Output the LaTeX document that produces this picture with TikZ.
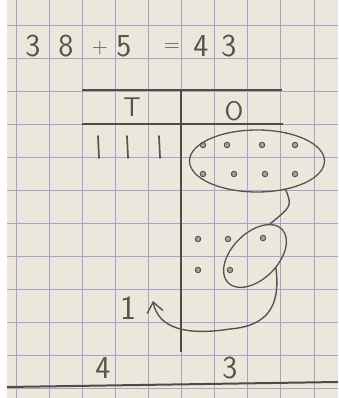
\documentclass[tikz,border=0pt]{standalone}
\usepackage{tikz}
\usetikzlibrary{positioning,calc,shapes.geometric,arrows.meta}
\definecolor{Paper}{HTML}{ECE7DD}
\definecolor{Grid}{HTML}{A7A4C8}
\definecolor{Pencil}{HTML}{55554E}

\begin{document}
\begin{tikzpicture}[
			x=1pt, y=1pt,
			gridline/.style={draw=Grid, line width=0.75pt},
			pencil/.style={draw=Pencil, line width=1.4pt, line cap=round},
			tablerule/.style={draw=Pencil!90!black, line width=2pt},
			digit/.style={text=Pencil, font=\sffamily\fontsize{32}{32}\selectfont, inner sep=0pt},
			sign/.style={text=Pencil, font=\sffamily\fontsize{22}{22}\selectfont, inner sep=0pt},
			heading/.style={text=Pencil, font=\sffamily\fontsize{27}{27}\selectfont, inner sep=0pt},
			counter/.style={circle, draw=Pencil, fill=Pencil!55, line width=0.9pt, minimum size=5.5pt, inner sep=0pt},
			ring/.style={ellipse, draw=Pencil, line width=1.3pt, inner sep=0pt}
			]
			
			% Paper and squared grid
			\useasboundingbox (0,0) rectangle (338,398);
			\fill[white] (0,0) rectangle (338,398);
			\fill[Paper] (7,0) rectangle (338,398);
			\foreach \i in {0,...,9}
			\draw[gridline] ({16+33.1*\i},0) -- ({16+33.1*\i},398);
			\foreach \j in {0,...,11}
			\draw[gridline] (7,{373-33*\j}) -- (338,{373-33*\j});
			
			% Sum
			\node[digit] (tensA) at (33,352) {3};
			\node[digit] (onesA) at (66,352) {8};
			\node[sign] (plus) at (100,350) {+};
			\node[digit] (onesB) at (124,352) {5};
			\node[sign] (equals) at (172,350) {=};
			\node[digit] (tensC) at (201,352) {4};
			\node[digit] (onesC) at (229,352) {3};
			
			% Place value table
			\draw[tablerule] (82,308) -- (282,308);
			\draw[tablerule] (82,274) -- (283,274);
			\draw[tablerule] (181,308) -- (181,46);
			\draw[tablerule] (7,11) -- (338,16);
			\node[heading] (tens) at (132,291) {T};
			\node[heading] (ones) at (234,287) {O};
			
			% Tens as tally marks
			\foreach \xx in {98,127,159}
			\draw[pencil, line width=1.7pt] (\xx,262) -- (\xx+1,240);
			
			% Ones: eight and five
			\foreach \xx/\yy [count=\k] in {203/253, 227/253, 262/253, 295/253,
				203/224, 234/224, 265/224, 295/224,
				198/159, 228/159, 263/160, 198/128, 230/128}
			\node[counter] (dot\k) at (\xx,\yy) {};
			
			% Groups making ten
			\node[ring, minimum width=135pt, minimum height=62pt] (groupA) at (257,237) {};
			\node[ring, minimum width=76pt, minimum height=46pt, rotate=45] (groupB) at (255,142) {};
			\draw[pencil] (groupA.-45) .. controls (292,192) .. (groupB.20);
			
			% Carried ten
			\node[digit, font=\sffamily\fontsize{34}{34}\selectfont] (carry) at (128,90) {1};
			\coordinate (tip) at (153,97);
			\draw[pencil, -{Straight Barb[length=10pt,width=16pt]}] (groupB.-75)
			.. controls (281,90) and (266,72) .. (230,69)
			.. controls (186,62) and (158,70) .. (tip);
			
			% Answer
			\node[digit] (tensD) at (103,30) {4};
			\node[digit] (onesD) at (230,30) {3};
			
		\end{tikzpicture}
\end{document}
